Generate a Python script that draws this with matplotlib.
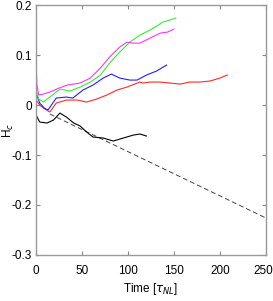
import numpy as np
import matplotlib.pyplot as plt
import matplotlib.transforms as mtransforms

plt.rcParams['font.family'] = ['Liberation Sans', 'DejaVu Sans']
plt.rcParams['mathtext.fontset'] = 'custom'
plt.rcParams['mathtext.it'] = 'DejaVu Sans:italic'

# magenta
t_m = [0, 1, 3, 8, 15, 25, 34, 48, 59, 70, 80, 91, 99, 105, 113, 124, 135, 143, 150]
h_m = [0.08, 0.04, 0.02, 0.022, 0.026, 0.034, 0.04, 0.044, 0.054, 0.074, 0.096, 0.116, 0.126, 0.124, 0.124, 0.134, 0.144, 0.146, 0.152]
# green
t_g = [0, 3, 8, 15, 26, 37, 48, 59, 70, 80, 91, 102, 113, 124, 138, 145, 152]
h_g = [0.03, 0.012, 0.006, 0.016, 0.032, 0.028, 0.036, 0.046, 0.06, 0.084, 0.106, 0.126, 0.14, 0.15, 0.166, 0.17, 0.174]
# blue
t_b = [0, 4, 9, 13, 22, 33, 40, 51, 62, 73, 82, 91, 102, 110, 120, 131, 142]
h_b = [0.024, 0.004, -0.006, -0.01, 0.014, 0.016, 0.014, 0.03, 0.04, 0.054, 0.062, 0.054, 0.05, 0.05, 0.06, 0.068, 0.08]
# red
t_r = [0, 4, 8, 15, 22, 33, 45, 55, 66, 77, 88, 99, 113, 116, 124, 135, 146, 157, 167, 178, 189, 200, 208]
h_r = [0.01, 0.0, -0.006, -0.014, 0.004, 0.01, 0.01, 0.006, 0.012, 0.02, 0.03, 0.036, 0.046, 0.044, 0.046, 0.046, 0.044, 0.042, 0.046, 0.046, 0.048, 0.054, 0.06]
# black
t_k = [0, 4, 12, 19, 26, 33, 41, 48, 55, 62, 73, 84, 95, 106, 113, 120]
h_k = [-0.02, -0.034, -0.036, -0.03, -0.016, -0.024, -0.036, -0.042, -0.054, -0.064, -0.066, -0.072, -0.066, -0.06, -0.058, -0.062]
# dashed fit
t_fit = [15, 250]
h_fit = [-0.018, -0.226]

fig = plt.figure(figsize=(2.73, 3.01), dpi=100)
ax = fig.add_axes([0.132, 0.153, 0.842, 0.83])

ax.plot(t_fit, h_fit, '--', color='#444444', lw=0.7, dashes=(5, 3))
ax.plot(t_k, h_k, color='black', lw=0.8)
ax.plot(t_r, h_r, color='#ff2a2a', lw=0.8)
ax.plot(t_b, h_b, color='#2020ff', lw=0.8)
ax.plot(t_g, h_g, color='#33ee33', lw=0.8)
ax.plot(t_m, h_m, color='#ff33ff', lw=0.8)

ax.set_xlim(0, 250)
ax.set_ylim(-0.3, 0.2)
ax.set_xticks([0, 50, 100, 150, 200, 250])
ax.set_yticks([-0.3, -0.2, -0.1, 0, 0.1, 0.2])
ax.set_yticklabels(['-0.3', '-0.2', '-0.1', '0', '0.1', '0.2'])
ax.tick_params(direction='in', top=True, right=True, labelsize=8.5, length=3, color='#888888', width=0.8, pad=3)
ax.tick_params(axis='x', pad=7)
for s in ax.spines.values():
    s.set_color('#999999')
    s.set_linewidth(1.0)
ax.set_xlabel(r'Time [$\tau_{NL}$]', fontsize=8.5, labelpad=3)
ax.set_ylabel(r'H$_c$', fontsize=8.5, labelpad=0)
ax.yaxis.set_label_coords(-0.085, 0.5)

# keep the last x tick label inside the figure
last = ax.get_xticklabels()[-1]
last.set_transform(last.get_transform() + mtransforms.ScaledTranslation(-3 / 100, 0, fig.dpi_scale_trans))

fig.savefig('out.png', dpi=100)
